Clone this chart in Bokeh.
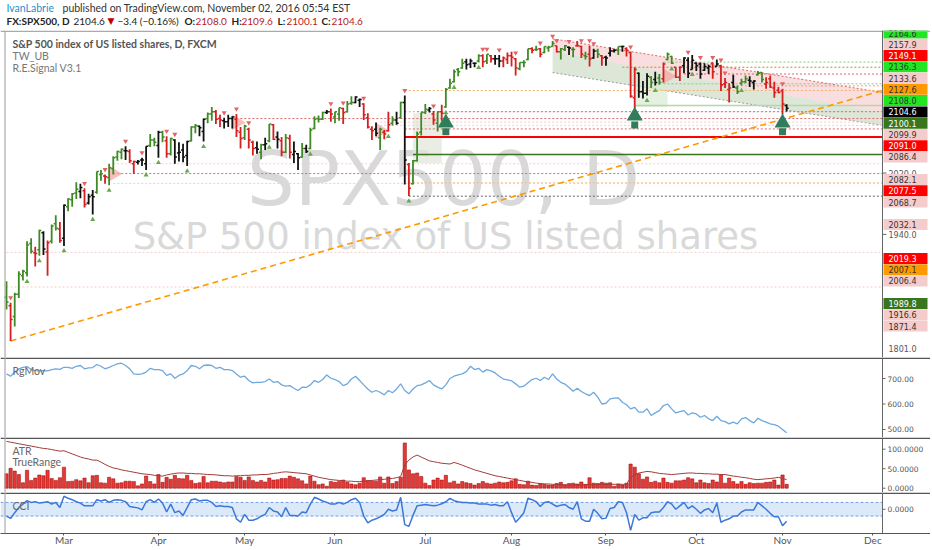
import numpy as np
import pandas as pd
from bokeh.plotting import figure
from bokeh.models import Range1d, Span, FixedTicker, ColumnDataSource
from bokeh.layouts import column
from bokeh.embed import file_html
from bokeh.resources import INLINE
from bokeh.core.properties import value

# ---------------- data (daily bars from 2016-02-10, weekdays) ----------------
opens = [1858,1847,1833,1862,1886,1890,1928,1916,1920,1942,
         1917,1931,1954,1947,1935,1976,1985,1994,1996,1997,
         1981,1991,1995,2018,2016,2014,2026,2041,2047,2049,
         2048,2032,2034,2037,2032,2056,2063,2056,2073,2062,
         2045,2063,2046,2050,2043,2062,2080,2081,2074,2091,
         2097,2100,2091,2088,2087,2091,2090,2073,2066,2077,
         2060,2053,2047,2057,2062,2083,2067,2062,2047,2065,
         2044,2045,2041,2052,2052,2078,2091,2090,2099,2100,
         2093,2097,2104,2100,2111,2112,2115,2110,2092,2077,
         2077,2066,2073,2075,2085,2089,2092,2112,2031,2006,
         2036,2073,2099,2102,2097,2085,2100,2106,2131,2139,
         2155,2157,2165,2162,2163,2166,2173,2166,2173,2169,
         2169,2166,2168,2173,2169,2156,2164,2168,2182,2181,
         2182,2177,2183,2185,2186,2178,2181,2184,2181,2186,
         2185,2173,2175,2170,2179,2173,2171,2176,2179,2180,
         2185,2182,2177,2118,2150,2126,2124,2145,2142,2144,
         2143,2168,2172,2158,2145,2160,2167,2155,2163,2162,
         2154,2157,2163,2159,2160,2136,2129,2138,2131,2137,
         2139,2141,2138,2148,2151,2136,2143,2131,2128,2127,
         2108.0]
highs = [1879,1851,1864,1892,1894,1931,1935,1924,1946,1944,
         1932,1953,1965,1956,1979,1987,1994,2008,2006,2000,
         1993,1998,2022,2024,2018,2032,2042,2049,2052,2055,
         2051,2036,2037,2040,2055,2071,2066,2075,2075,2068,
         2066,2064,2060,2058,2062,2081,2084,2082,2091,2099,
         2106,2102,2096,2092,2096,2094,2097,2080,2083,2079,
         2062,2061,2058,2066,2084,2084,2074,2067,2071,2070,
         2061,2046,2059,2057,2079,2094,2095,2100,2102,2104,
         2100,2105,2105,2114,2120,2120,2117,2111,2098,2081,
         2086,2079,2076,2100,2094,2100,2113,2121,2033,2037,
         2074,2099,2110,2106,2101,2100,2109,2131,2143,2155,
         2157,2169,2169,2169,2164,2175,2175,2175,2174,2174,
         2174,2172,2177,2178,2170,2164,2167,2182,2184,2186,
         2183,2185,2186,2192,2186,2183,2187,2185,2184,2192,
         2186,2178,2186,2182,2182,2174,2173,2184,2182,2185,
         2186,2184,2178,2158,2151,2140,2150,2146,2152,2149,
         2164,2177,2173,2158,2159,2171,2171,2174,2164,2164,
         2163,2161,2164,2168,2161,2144,2137,2148,2134,2143,
         2147,2146,2141,2153,2151,2145,2147,2139,2132,2130,
         2109.6]
lows = [1842,1801,1820,1857,1880,1885,1915,1898,1912,1913,
        1886,1928,1945,1929,1925,1970,1976,1986,1987,1975,
        1979,1966,1993,2010,2006,2004,2018,2036,2038,2037,
        2033,2019,2031,2029,2024,2054,2055,2040,2060,2040,
        2043,2032,2035,2034,2029,2061,2072,2068,2061,2085,
        2088,2084,2080,2078,2080,2078,2067,2052,2063,2052,
        2043,2045,2038,2050,2060,2063,2052,2042,2046,2039,
        2033,2024,2040,2046,2051,2077,2086,2089,2097,2087,
        2085,2088,2084,2099,2109,2111,2106,2089,2078,2063,
        2068,2050,2064,2074,2082,2083,2091,2005,1990,2005,
        2035,2069,2097,2099,2083,2074,2088,2105,2130,2138,
        2146,2156,2155,2157,2158,2164,2158,2162,2164,2161,
        2158,2158,2162,2159,2147,2154,2158,2167,2176,2179,
        2171,2176,2178,2185,2177,2168,2179,2174,2171,2185,
        2170,2168,2159,2169,2170,2160,2160,2172,2177,2174,
        2178,2172,2118,2104,2118,2117,2121,2131,2134,2135,
        2138,2167,2162,2144,2140,2150,2144,2155,2153,2143,
        2153,2149,2143,2159,2127,2131,2112,2131,2123,2134,
        2137,2132,2129,2147,2138,2130,2131,2118,2124,2096,
        2100.1]
closes = [1852,1829,1862,1888,1892,1926,1918,1915,1945,1921,
          1929,1951,1948,1932,1978,1986,1993,1999,2001,1979,
          1989,1989,2022,2019,2015,2027,2040,2048,2051,2049,
          2036,2035,2035,2037,2055,2063,2060,2073,2067,2045,
          2065,2041,2047,2041,2061,2080,2082,2079,2090,2097,
          2100,2090,2089,2087,2091,2093,2075,2065,2081,2063,
          2052,2051,2057,2058,2084,2064,2064,2047,2066,2047,
          2048,2040,2052,2048,2076,2090,2090,2099,2100,2097,
          2100,2105,2099,2110,2112,2119,2116,2096,2080,2075,
          2072,2077,2071,2083,2089,2085,2112,2037,2000,2036,
          2071,2099,2103,2104,2089,2100,2098,2129,2137,2152,
          2152,2163,2161,2166,2163,2173,2165,2175,2169,2169,
          2166,2170,2173,2171,2157,2164,2164,2182,2180,2181,
          2175,2185,2184,2189,2178,2182,2186,2183,2181,2186,
          2175,2172,2169,2179,2175,2170,2170,2179,2180,2185,
          2185,2180,2120,2155,2126,2124,2146,2138,2138,2138,
          2162,2175,2163,2145,2158,2170,2150,2167,2160,2149,
          2159,2159,2152,2162,2135,2138,2131,2132,2126,2139,
          2143,2140,2140,2150,2142,2138,2132,2125,2125,2110,
          2104.6]
# R.E.Signal bar state: g = bullish, r = bearish, k = neutral
bar_kind = list("grgggggrgk" "rggrkgggkr" "kkggrggggk" "rrkkkggkgr" "gkkkkggkkg"
                "grrkkkrrgr" "rkgkgrkrgr" "kkgkggggkr" "ggrggkkrrr" "kgrrgkgkrg"
                "gggkrgrggg" "ggkkkgrgrk" "krrrrgggrg" "rgggrggkgr" "rgrkgrkkkg"
                "krrrkkkgkg" "rggrrkkkkk" "kkrkrrrkgg" "gkkggrrrrr" "k")

rgmov = [718,709,725,738,744,747,735,731,730,731,
         730,735,738,736,744,744,740,748,751,738,
         742,743,755,748,738,744,751,757,760,751,
         738,718,716,718,725,740,735,735,731,712,
         718,701,712,718,731,751,748,738,751,753,
         751,740,744,735,735,731,718,705,709,692,
         683,685,685,688,698,685,688,675,670,672,
         662,653,666,665,675,692,685,696,714,701,
         696,688,672,679,698,709,692,675,659,646,
         653,646,636,653,644,659,679,653,640,659,
         672,675,683,692,675,666,659,675,700,709,
         714,718,727,748,735,740,725,735,730,722,
         709,698,695,691,679,666,670,683,696,701,
         692,705,696,718,698,685,678,665,650,662,
         649,640,633,646,627,600,603,620,623,624,
         607,597,581,587,568,568,581,555,565,574,
         594,600,581,565,570,574,557,565,561,548,
         555,542,535,552,535,531,522,529,522,542,
         547,535,526,544,535,529,522,519,513,500,
         487]
atr = [120,118,116,114,112,110,108,106,104,102,
       101,99,97,95,96,92,88,84,80,77,
       75,72,72,67,61,56,52,50,47,45,
       43,41,39,37,36,35,33,32,31,34,
       36,38,39,39,38,38,37,37,36,35,
       35,34,33,32,32,31,32,32,33,33,
       34,34,35,35,36,38,39,41,42,41,
       40,39,38,37,34,31,28,26,24,22,
       21,20,19,18,18,17,17,18,19,20,
       21,22,23,24,25,27,30,60,72,80,
       85,80,75,70,68,66,64,63,62,66,
       63,59,55,51,47,44,41,38,35,32,
       30,28,26,24,22,20,18,16,15,13,
       12,11,11,10,10,9,9,8,8,8,
       8,9,9,9,10,10,10,10,10,10,
       10,10,27,35,39,41,43,42,40,38,
       37,36,35,36,37,38,39,39,38,38,
       37,37,36,36,35,35,33,31,30,28,
       27,25,23,22,23,24,25,26,28,25,
       22]
cci = [-100,-135,-50,25,75,125,100,110,90,100,
       110,75,100,25,190,160,140,110,90,50,
       50,50,140,120,140,100,130,140,130,110,
       40,30,20,-10,110,140,100,150,90,-40,
       75,-50,-25,-90,25,140,150,120,130,130,
       100,40,50,40,40,25,-140,-190,-75,-160,
       -160,-140,-100,-75,25,-25,-40,-110,25,-90,
       -90,-100,-40,-50,75,175,150,120,100,75,
       75,100,75,100,140,160,100,-100,-200,-160,
       -140,-110,-75,0,-25,-10,175,-225,-250,-90,
       50,60,70,60,50,60,80,110,160,125,
       110,100,100,90,90,75,75,75,60,70,
       50,50,110,-50,-190,-125,-50,160,140,110,
       40,100,110,75,40,60,70,25,0,110,
       -140,-175,-175,0,-60,-140,-130,10,25,110,
       100,-50,-310,-75,-160,-125,-125,-50,-40,-40,
       25,110,75,0,50,100,10,50,0,-60,
       -10,10,-50,90,-190,-160,-140,-100,-100,-40,
       -10,-10,-10,100,50,0,-60,-110,-110,-240,
       -175]

sig_dn = [1,19,24,29,33,39,41,53,56,59,79,82,87,97,104,116,117,120,124,130,
          133,134,137,140,142,143,152,166,169,172,174,175,189]
sig_up = [5,8,14,21,25,34,37,44,48,64,74,93,98,107,109,115,156,158,162,167,179]
arrow_idx = [107, 153, 189]
arrow_tip = [2092, 2101, 2092]
pink_tri_idx = [26, 56, 91, 161]
pink_tri_price = [2019, 2086, 2075, 2146]
box_left = [99, 153]
box_right = [106, 161]
box_bottom = [2033, 2106]
box_top = [2098, 2138]
chan_start = 133
chan_upper = [2195, 2125]
chan_mid = [2179, 2098]
chan_lower = [2151, 2082]
trend_start = (1, 1801.0)
trend_end_price = 2127.6

line_prices = [2164.6, 2157.9, 2149.1, 2136.3, 2133.6, 2127.6, 2108.0, 2100.1, 2099.9, 2091.0,
               2086.4, 2082.1, 2077.5, 2067.0, 2044.0, 2032.1, 2019.3, 2007.1, 2006.4, 1989.8,
               1916.6, 1871.4]
line_starts = [160, 150, 165, 160, 174, 97, 153, 100, 97, 55,
               91, 91, 97, 97, 99, 26, 26, 98, 26, 98, 0, 0]
line_colors = ["#93c47d", "#bf9000", "#e06666", "#93c47d", "#ea9999", "#f6b26b", "#b6d7a8", "#666666",
               "#ea9999", "#e06666", "#f4cccc", "#f4cccc", "#e06666", "#ff0000", "#38761d", "#f4cccc",
               "#e06666", "#f6b26b", "#f4cccc", "#666666", "#f4cccc", "#f4cccc"]
line_dashes = ["2 2"] * 6 + ["solid"] + ["2 2"] * 6 + ["solid", "solid"] + ["2 2"] * 7
line_widths = [1] * 6 + [1.5] + [1] * 6 + [2, 1.5] + [1] * 7

label_values = [2164.6, 2157.9, 2149.1, 2136.3, 2133.6, 2127.6, 2108.0, 2104.6, 2100.1, 2099.9,
                2091.0, 2086.4, 2082.1, 2077.5, 2068.7, 2032.1, 2019.3, 2007.1, 2006.4, 1989.8,
                1916.6, 1871.4]
LIME, PINK, RED, ORG, BLK, DKG = "#22e622", "#f4cccc", "#ff0000", "#ff9900", "#000000", "#38761d"
label_bg = [LIME, PINK, RED, LIME, PINK, ORG, LIME, BLK, DKG, PINK,
            RED, PINK, PINK, RED, PINK, PINK, RED, ORG, PINK, DKG, PINK, PINK]
label_fg = ["white" if b in (RED, BLK, DKG) else "#333333" for b in label_bg]
label_rows = [0, 1, 2, 3, 4, 5, 6, 7, 8, 9, 10, 11, 13, 14, 15, 17, 20, 21, 22, 24, 25, 26]

month_names = ["Mar", "Apr", "May", "Jun", "Jul", "Aug", "Sep", "Oct", "Nov", "Dec"]

# ---------------- derived ----------------
N = len(closes)
idx = np.arange(N)
o = np.array(opens, float); h = np.array(highs, float)
l = np.array(lows, float); c = np.array(closes, float)
prev_c = np.concatenate([[c[0]], c[:-1]])
true_range = np.maximum(h, prev_c) - np.minimum(l, prev_c)
true_range[0] = h[0] - l[0]

dates = pd.bdate_range("2016-02-10", periods=230)
month_idx = [int(np.argmax((dates.month == m) & (dates.year == 2016))) for m in range(3, 13)]

# ---------------- layout helpers (page pixels) ----------------
W = 930
PXI = 4.106
X0 = -6 / PXI
X1 = X0 + W / PXI
def sx(xpx):
    return X0 + xpx / PXI
AX = sx(882)

MAIN_TOP, MAIN_H = 30, 327
Y0, Y1 = 1779.5, 2205.8
KP = MAIN_H / (Y1 - Y0)
def sy(ypx):
    return Y1 - (ypx - MAIN_TOP) / KP

def conv(top, hgt, y0, y1):
    return lambda ypx: y1 - (ypx - top) * (y1 - y0) / hgt

FONT = "Lato"
AXF = "DejaVu Sans"
xr = Range1d(X0, X1)

def base(height, yr, x_range, xaxis=False):
    f = figure(width=W, height=height, x_range=x_range, y_range=yr, output_backend="svg",
               toolbar_location=None, x_axis_location=("below" if xaxis else None),
               y_axis_location=None, min_border=0)
    f.outline_line_color = None
    f.grid.visible = False
    f.background_fill_color = "white"
    f.border_fill_color = "white"
    return f

# ---------------- header ----------------
hdr = base(30, Range1d(30, 0), Range1d(0, W))
def htext(x, y, s, color="#222222", bold=False, size="10px", font=FONT):
    hdr.text(x=[x], y=[y], text=[s], text_color=color, text_font=value(font),
             text_font_size=size, text_font_style=("bold" if bold else "normal"),
             text_baseline="middle", text_align="left")
htext(6, 7.5, "IvanLabrie", color="#2a8fd0", size="10.5px")
htext(62, 7.5, "published on TradingView.com, November 02, 2016 05:54 EST", color="#333333", size="10.5px")
L2 = 20.8
RV = "#b71c1c"
htext(6, L2, "FX:SPX500, D", bold=True)
htext(73, L2, "2104.6")
htext(107, L2, "▼", color="#c00000", size="9px", font="DejaVu Sans")
htext(117, L2, "−3.4 (−0.16%)")
htext(184, L2, "O:", bold=True)
htext(195, L2, "2108.0", color=RV)
htext(231, L2, "H:", bold=True)
htext(241, L2, "2109.6", color=RV)
htext(277, L2, "L:", bold=True)
htext(286, L2, "2100.1", color=RV)
htext(321, L2, "C:", bold=True)
htext(331, L2, "2104.6", color=RV)

# ---------------- main price panel ----------------
p = base(MAIN_H, Range1d(Y0, Y1), xr)
p.text(x=[sx(443)], y=[sy(178)], text=["SPX500, D"], text_font=value("DejaVu Sans"),
       text_font_size="75px", text_color="#d9d9d9", text_align="center", text_baseline="middle")
p.text(x=[sx(445)], y=[sy(236)], text=["S&P 500 index of US listed shares"], text_font=value("DejaVu Sans"),
       text_font_size="37px", text_color="#d9d9d9", text_align="center", text_baseline="middle")

# trend channel
p.patch(x=[chan_start, AX, AX, chan_start], y=[chan_upper[0], chan_upper[1], chan_mid[1], chan_mid[0]],
        fill_color="#f4cccc", fill_alpha=0.65, line_color=None)
p.patch(x=[chan_start, AX, AX, chan_start], y=[chan_mid[0], chan_mid[1], chan_lower[1], chan_lower[0]],
        fill_color="#a9c39d", fill_alpha=0.4, line_color=None)
p.line(x=[chan_start, AX], y=chan_upper, line_color="#e06666", line_dash="2 2", line_width=1)
p.line(x=[chan_start, AX], y=chan_lower, line_color="#999999", line_dash="2 2", line_width=1)
p.quad(left=box_left, right=box_right, bottom=box_bottom, top=box_top,
       fill_color=["#dfe6d9", "#d9ead3"], fill_alpha=0.7, line_color=None)

for pr, st, col, dash, lw in zip(line_prices, line_starts, line_colors, line_dashes, line_widths):
    p.segment(x0=[st], y0=[pr], x1=[AX], y1=[pr], line_color=col, line_dash=dash, line_width=lw)

p.line(x=[trend_start[0], AX], y=[trend_start[1], trend_end_price], line_color="#ff9900",
       line_dash="6 4", line_width=1.6)

p.scatter(x=pink_tri_idx, y=pink_tri_price, marker="triangle", angle=-np.pi / 2, size=16,
          fill_color="#f4a3a3", fill_alpha=0.7, line_color=None)

KIND_COLOR = {"g": "#3f8a26", "r": "#d61f1f", "k": "#111111"}
src = ColumnDataSource(dict(x=idx, o=o, h=h, l=l, c=c, xl=idx - 0.5, xr=idx + 0.5,
                            col=[KIND_COLOR[k] for k in bar_kind]))
p.segment(x0="x", y0="l", x1="x", y1="h", line_color="col", line_width=1.8, source=src)
p.segment(x0="xl", y0="o", x1="x", y1="o", line_color="col", line_width=1.5, source=src)
p.segment(x0="x", y0="c", x1="xr", y1="c", line_color="col", line_width=1.5, source=src)

dn = np.array(sig_dn); up = np.array(sig_up)
p.scatter(x=dn, y=h[dn] + 5 / KP, marker="inverted_triangle", size=5, fill_color="#e06666", line_color=None)
p.scatter(x=up, y=l[up] - 5 / KP, marker="triangle", size=5, fill_color="#6aa84f", line_color=None)

at = np.array(arrow_tip, float)
p.scatter(x=arrow_idx, y=at - 5 / KP, marker="triangle", size=16, fill_color="#2f7d5b", line_color=None)
p.rect(x=arrow_idx, y=at - 14 / KP, width=7, height=7, width_units="screen", height_units="screen",
       fill_color="#2f7d5b", line_color=None)

# legend text
for txt, ypx, bold, col in [("S&P 500 index of US listed shares, D, FXCM", 43, True, "#555555"),
                            ("TW_UB", 55, False, "#777777"), ("R.E.Signal V3.1", 67, False, "#777777")]:
    p.text(x=[sx(12)], y=[sy(ypx)], text=[txt], text_font=value(FONT), text_font_size="10.5px",
           text_font_style=("bold" if bold else "normal"), text_color=col, text_baseline="middle")

# price scale
p.segment(x0=[AX, AX], y0=[2020, 1940], x1=[sx(886), sx(886)], y1=[2020, 1940], line_color="#666666")
p.text(x=sx(902), y=[2020, 1940, sy(32 + 11.27 * 28)], text=["2020.0", "1940.0", "1801.0"],
       text_font=value(AXF), text_font_size="8px", text_color="#555555", text_align="center",
       text_baseline="middle")
lab_y = [sy(32.5 + 11.27 * r) for r in label_rows]
p.rect(x=sx(905), y=lab_y, width=44, height=11, width_units="screen", height_units="screen",
       fill_color=label_bg, line_color=None)
p.text(x=sx(902), y=lab_y, text=[f"{v:.1f}" for v in label_values], text_color=label_fg,
       text_font=value(AXF), text_font_size="8px", text_align="center", text_baseline="middle")

p.add_layout(Span(location=Y1 - 0.75 / KP, dimension="width", line_color="#aaaaaa", line_width=1.5))

# ---------------- RgMov ----------------
RG0, RG1 = 468.6, 782.4
rg = base(80, Range1d(RG0, RG1), xr)
rg.line(idx, rgmov, line_color="#6fa8dc", line_width=1.3)
rgy = conv(357, 80, RG0, RG1)
rg.text(x=[sx(12)], y=[rgy(370)], text=["RgMov"], text_font=value(FONT), text_font_size="10.5px",
        text_color="#666666", text_baseline="middle")
rg_ticks = [700, 600, 500]
rg.segment(x0=AX, y0=rg_ticks, x1=sx(885), y1=rg_ticks, line_color="#666666")
rg.text(x=sx(887), y=rg_ticks, text=["700.00", "600.00", "500.00"], text_font=value(AXF),
        text_font_size="7.5px", text_color="#555555", text_baseline="middle")
rg.add_layout(Span(location=RG1 - 0.75 * (RG1 - RG0) / 80, dimension="width", line_color="#555555", line_width=1.5))

# ---------------- ATR / TrueRange ----------------
A0, A1 = -11, 130
af = base(55, Range1d(A0, A1), xr)
af.vbar(x=idx, top=true_range, bottom=0, width=0.8, fill_color="#e53935", line_color="#990000", line_width=0.5)
af.line(idx, atr, line_color="#a33a3a", line_width=1)
ay = conv(437, 55, A0, A1)
af.text(x=[sx(12), sx(12)], y=[ay(450), ay(461)], text=["ATR", "TrueRange"], text_font=value(FONT),
        text_font_size="10.5px", text_color="#666666", text_baseline="middle")
a_ticks = [100, 50, 0]
af.segment(x0=AX, y0=a_ticks, x1=sx(885), y1=a_ticks, line_color="#666666")
af.text(x=sx(887), y=a_ticks, text=["100.0000", "50.0000", "0.0000"], text_font=value(AXF),
        text_font_size="7.5px", text_color="#555555", text_baseline="middle")
af.add_layout(Span(location=A1 - 0.75 * (A1 - A0) / 55, dimension="width", line_color="#555555", line_width=1.5))

# ---------------- CCI ----------------
C0, C1 = -355, 245
cf = base(56, Range1d(C0, C1), xr, xaxis=True)
cf.quad(left=[X0], right=[AX], bottom=[-100], top=[100], fill_color="#d3e3f8", fill_alpha=0.8, line_color=None)
cf.segment(x0=[X0, X0], y0=[100, -100], x1=[AX, AX], y1=[100, -100], line_color="#6d9eeb",
           line_dash="3 2", line_width=1)
cf.line(idx, cci, line_color="#3c78d8", line_width=1.5)
cf.text(x=[sx(12)], y=[50], text=["CCI"], text_font=value(FONT), text_font_size="10.5px",
        text_color="#666666", text_baseline="middle")
cf.segment(x0=[AX], y0=[0], x1=[sx(885)], y1=[0], line_color="#666666")
cf.text(x=[sx(887)], y=[0], text=["0.0000"], text_font=value(AXF), text_font_size="7.5px",
        text_color="#555555", text_baseline="middle")
cf.add_layout(Span(location=C1 - 0.75 * (C1 - C0) / 40, dimension="width", line_color="#555555", line_width=1.5))
ax = cf.xaxis[0]
ax.ticker = FixedTicker(ticks=month_idx)
ax.major_label_overrides = {int(i): n for i, n in zip(month_idx, month_names)}
ax.minor_tick_line_color = None
ax.major_tick_in = 0
ax.major_tick_out = 2
ax.major_label_standoff = -2
ax.axis_label_standoff = 0
ax.major_label_text_font = FONT
ax.major_label_text_font_size = "10px"
ax.major_label_text_line_height = 1.0
ax.major_label_text_color = "#555555"
ax.axis_line_color = "#555555"
ax.major_tick_line_color = "#555555"

for f in (p, rg, af, cf):
    f.add_layout(Span(location=AX, dimension="height", line_color="#666666", line_width=1))
    f.add_layout(Span(location=sx(4.5), dimension="height", line_color="#aaaaaa", line_width=1.2))

layout = column(hdr, p, rg, af, cf, spacing=0)
open("out.html", "w").write(file_html(layout, INLINE))
